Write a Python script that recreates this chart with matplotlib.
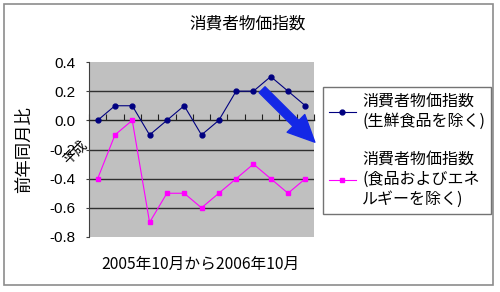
import numpy as np
import matplotlib
matplotlib.use('Agg')
import matplotlib.pyplot as plt
from matplotlib.patches import Rectangle

plt.rcParams['font.family'] = ['Noto Sans CJK JP', 'DejaVu Sans']
plt.rcParams['axes.unicode_minus'] = False

# 2005年10月 .. 2006年10月 (13 months)
months = list(range(13))
core_cpi = [0.0, 0.1, 0.1, -0.1, 0.0, 0.1, -0.1, 0.0, 0.2, 0.2, 0.3, 0.2, 0.1]
core_core_cpi = [-0.4, -0.1, 0.0, -0.7, -0.5, -0.5, -0.6, -0.5, -0.4, -0.3, -0.4, -0.5, -0.4]
y_ticks = [0.4, 0.2, 0.0, -0.2, -0.4, -0.6, -0.8]
label_core = '消費者物価指数\n(生鮮食品を除く)'
label_core_core = '消費者物価指数\n(食品およびエネ\nルギーを除く)'

fig = plt.figure(figsize=(5, 2.92), dpi=100)
fig.patches.append(Rectangle((4 / 500, 7 / 292), 489 / 500, 281 / 292,
                             transform=fig.transFigure, fill=False,
                             edgecolor='#8c8c8c', lw=1.2))

ax = fig.add_axes([89 / 500, 55 / 292, 225 / 500, 175 / 292])
ax.set_facecolor('#c0c0c0')
ax.set_xlim(-0.5, 12.5)
ax.set_ylim(-0.8, 0.4)

for yv in [0.2, -0.2, -0.4, -0.6]:
    ax.axhline(yv, color='#303030', lw=1.0, zorder=1)

ax.plot(months, core_cpi, color='#000080', lw=0.8, marker='o', ms=3.5,
        label=label_core, zorder=3)
ax.plot(months, core_core_cpi, color='#ff00ff', lw=0.8, marker='s', ms=3.5,
        label=label_core_core, zorder=3)

# big blue arrow
ax.annotate('', xy=(12.55, -0.15), xytext=(9.5, 0.21),
            arrowprops=dict(arrowstyle='simple,head_width=1.5,head_length=1.6,tail_width=0.5',
                            color='#1428e6', mutation_scale=12,
                            shrinkA=0, shrinkB=0),
            annotation_clip=False, zorder=4)

for s in ['top', 'right']:
    ax.spines[s].set_visible(False)
ax.spines['left'].set_color('#404040')
ax.spines['bottom'].set_position(('data', 0))
ax.spines['bottom'].set_color('#202020')
ax.spines['bottom'].set_linewidth(1.0)

ax.set_xticks(np.arange(-0.5, 13, 1))
ax.set_xticklabels([])
ax.tick_params(axis='x', direction='in', length=4, color='#202020')
ax.set_yticks(y_ticks)
ax.set_yticklabels(['%.1f' % v for v in y_ticks], family=['Liberation Sans'],
                   fontsize=11)
ax.tick_params(axis='y', length=2, pad=8, color='#404040')

fig.text(248 / 500, 1 - 24 / 292, '消費者物価指数', ha='center', va='center',
         fontsize=12)
fig.text(24 / 500, 1 - 150 / 292, '前年同月比', rotation=90, ha='center',
         va='center', fontsize=12.5)
fig.text(200 / 500, 1 - 264 / 292, '2005年10月から2006年10月', ha='center',
         va='center', fontsize=11.3)
fig.text(75 / 500, 1 - 153 / 292, '平成', rotation=45, ha='center',
         va='center', fontsize=10)

leg = fig.legend(loc='upper left', bbox_to_anchor=(323 / 500, 1 - 87 / 292),
                 fontsize=11.5, frameon=True, fancybox=False, handlelength=1.7,
                 handletextpad=0.4, labelspacing=1.3, borderpad=0.35,
                 borderaxespad=0, edgecolor='#505050')
leg.get_frame().set_linewidth(1.0)
for t in leg.get_texts():
    t.set_linespacing(1.25)

fig.savefig('out.png', dpi=100)
